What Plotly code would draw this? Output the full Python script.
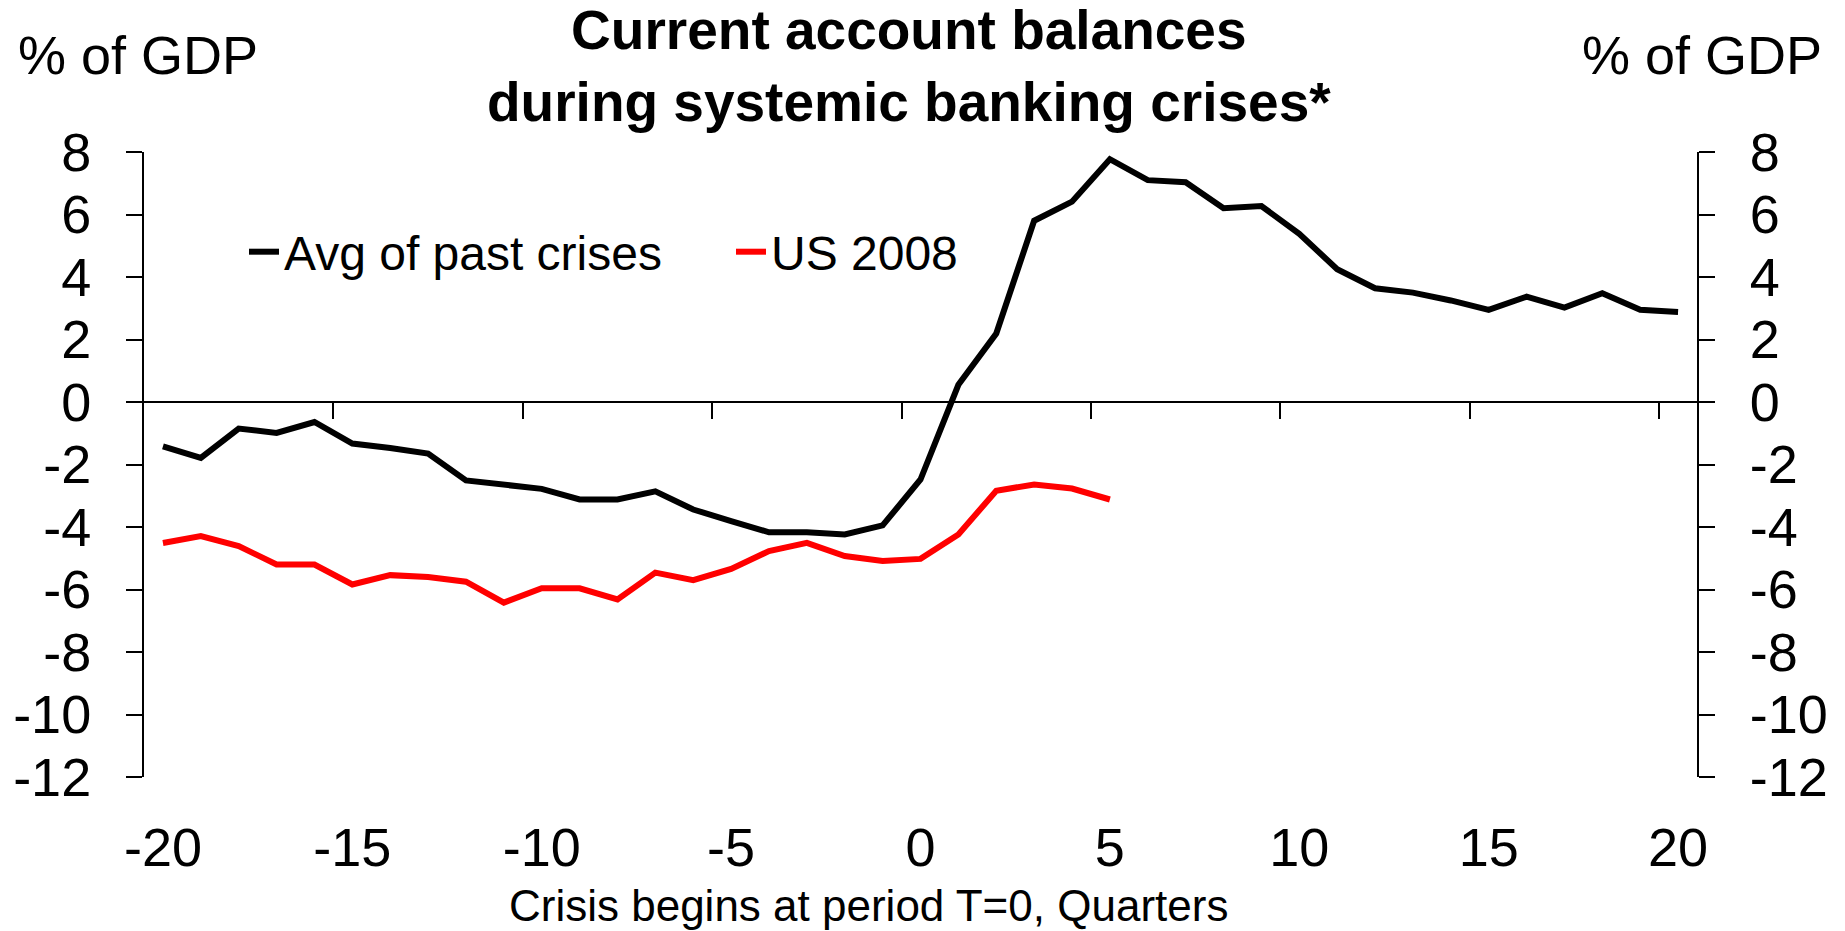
import plotly.graph_objects as go

# Quarters relative to the start of the crisis (T=0)
quarters = list(range(-20, 21))

# Average current account balance of past systemic banking crises, % of GDP
avg_past = [-1.42, -1.79, -0.85, -0.99, -0.64, -1.33, -1.47, -1.65, -2.51, -2.64,
            -2.78, -3.12, -3.12, -2.86, -3.44, -3.81, -4.17, -4.17, -4.24, -3.95,
            -2.48, 0.55, 2.19, 5.80, 6.41, 7.77, 7.10, 7.03, 6.20, 6.27,
            5.38, 4.25, 3.64, 3.50, 3.25, 2.95, 3.37, 3.02, 3.48, 2.95, 2.88]

# United States, 2008 crisis (data through T=5)
us_quarters = list(range(-20, 6))
us_2008 = [-4.51, -4.29, -4.61, -5.20, -5.20, -5.84, -5.54, -5.60, -5.75, -6.42,
           -5.96, -5.96, -6.32, -5.46, -5.70, -5.34, -4.77, -4.51, -4.93, -5.09,
           -5.02, -4.24, -2.84, -2.64, -2.77, -3.12]

x_labels = list(range(-20, 25, 5))
x_boundaries = [v - 0.5 for v in range(-15, 25, 5)]
y_ticks = list(range(-12, 10, 2))

FONT = "Liberation Sans, Arial, sans-serif"
W, H = 1845, 931
L, R, T, B = 144, 148, 152, 154

fig = go.Figure()
fig.add_trace(go.Scatter(x=quarters, y=avg_past, mode="lines", name="Avg of past crises",
                         line=dict(color="#000000", width=6)))
fig.add_trace(go.Scatter(x=us_quarters, y=us_2008, mode="lines", name="US 2008",
                         line=dict(color="#ff0000", width=6)))
# helper traces so the zero-line axis and the right-hand axis are drawn
fig.add_trace(go.Scatter(x=[], y=[], xaxis="x2", yaxis="y", showlegend=False, hoverinfo="skip"))
fig.add_trace(go.Scatter(x=[], y=[], xaxis="x", yaxis="y2", showlegend=False, hoverinfo="skip"))

yfrac0 = 12 / 20  # where y = 0 sits within the plot height

axis_common = dict(showgrid=False, zeroline=False, linecolor="#000000", tickcolor="#000000")

fig.update_layout(
    width=W, height=H,
    paper_bgcolor="#ffffff", plot_bgcolor="#ffffff",
    margin=dict(l=L, r=R, t=T, b=B, autoexpand=False),
    font=dict(family=FONT, color="#000000", size=54),
    xaxis=dict(range=[-20.5, 20.5], tickvals=x_labels, ticktext=[str(v) for v in x_labels],
               ticks="", showline=False, tickfont=dict(size=54), ticklabelstandoff=34,
               **axis_common),
    xaxis2=dict(range=[-20.5, 20.5], overlaying="x", anchor="free", position=yfrac0,
                tickvals=x_boundaries, ticks="outside", ticklen=16, tickwidth=2,
                showline=True, linewidth=2, showticklabels=False, **axis_common),
    yaxis=dict(range=[-12, 8], tickvals=y_ticks, ticktext=[str(v) for v in y_ticks],
               ticks="outside", ticklen=16, tickwidth=2, showline=True, linewidth=2,
               tickfont=dict(size=54), ticklabelstandoff=24, **axis_common),
    yaxis2=dict(range=[-12, 8], overlaying="y", side="right", tickvals=y_ticks,
                ticktext=[str(v) for v in y_ticks], ticks="outside", ticklen=16, tickwidth=2,
                showline=True, linewidth=2, tickfont=dict(size=54), ticklabelstandoff=24,
                **axis_common),
    legend=dict(orientation="h", x=244 / W, xref="container", xanchor="left",
                y=1 - 252 / H, yref="container", yanchor="middle",
                font=dict(size=48, family=FONT), entrywidth=442, entrywidthmode="pixels",
                bgcolor="rgba(0,0,0,0)", borderwidth=0),
    showlegend=True,
)

pw = W - L - R
ph = H - T - B


def px_x(v):
    return (v - L) / pw


def px_y(v):
    return (H - B - v) / ph


fig.add_annotation(text="<b>Current account balances<br>during systemic banking crises*</b>",
                   xref="paper", yref="paper", x=px_x(909), y=px_y(66),
                   xanchor="center", yanchor="middle", showarrow=False,
                   font=dict(size=55, family=FONT))
fig.add_annotation(text="% of GDP", xref="paper", yref="paper",
                   x=px_x(16), y=px_y(55), xanchor="left", yanchor="middle",
                   showarrow=False, font=dict(size=54, family=FONT))
fig.add_annotation(text="% of GDP", xref="paper", yref="paper",
                   x=px_x(1824), y=px_y(55), xanchor="right", yanchor="middle",
                   showarrow=False, font=dict(size=54, family=FONT))
fig.add_annotation(text="Crisis begins at period T=0, Quarters", xref="paper", yref="paper",
                   x=px_x(868), y=px_y(905), xanchor="center", yanchor="middle",
                   showarrow=False, font=dict(size=44, family=FONT))

fig.write_html("out.html")
